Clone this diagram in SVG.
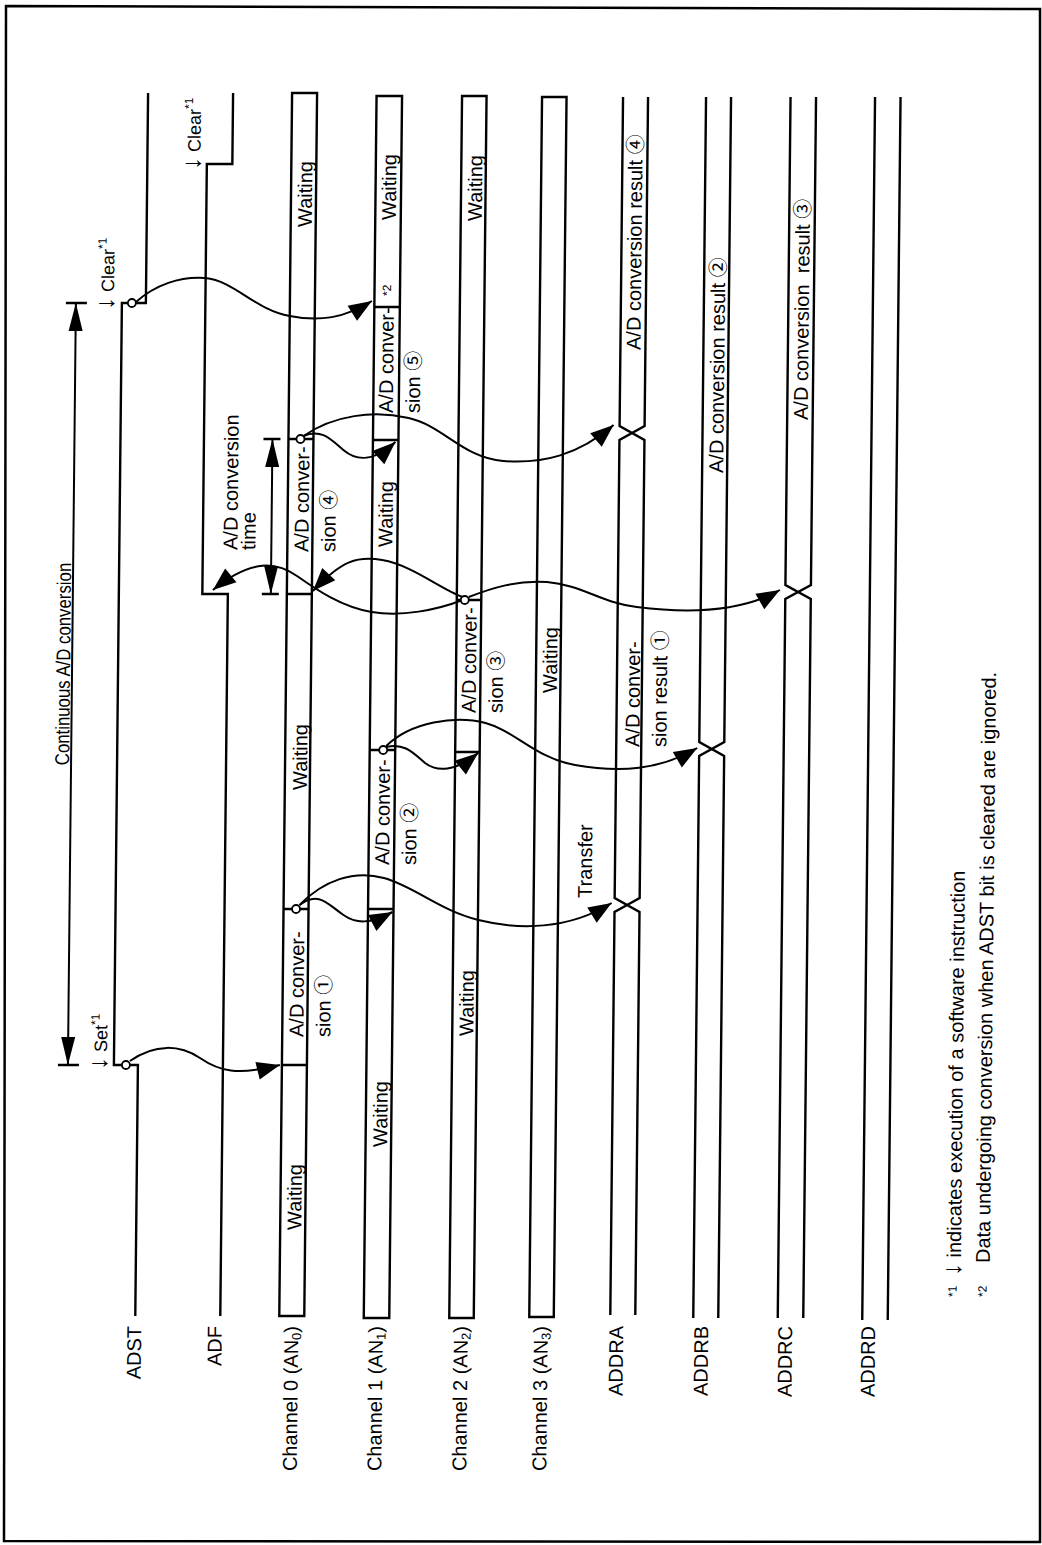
<svg xmlns="http://www.w3.org/2000/svg" width="1042" height="1545" viewBox="0 0 1042 1545">
<style>
.ln{fill:none;stroke:#000;stroke-width:2.4}
.bx{fill:none;stroke:#000;stroke-width:2.4}
.cv{fill:none;stroke:#000;stroke-width:2}
.t{font-family:"Liberation Sans","Noto Sans CJK JP",sans-serif;font-size:20px;fill:#000}
.m{font-size:18px}
.s{font-size:12px}
.ar{font-size:26px}
.dot{fill:#fff;stroke:#000;stroke-width:1.8}
</style>
<defs>
<marker id="ah" markerUnits="userSpaceOnUse" viewBox="-24 -11 26 22" markerWidth="26" markerHeight="22" refX="0" refY="0" orient="auto"><path d="M0,0 L-23,-9 L-23,9 Z"/></marker>
<marker id="dh" markerUnits="userSpaceOnUse" viewBox="-30 -8 32 16" markerWidth="32" markerHeight="16" refX="0" refY="0" orient="auto-start-reverse"><path d="M0,0 L-28,-7 L-28,7 Z"/></marker>
</defs>
<rect width="1042" height="1545" fill="#fff"/>
<polygon points="6,6 1040,9 1040,1542 4,1541" fill="none" stroke="#000" stroke-width="2.5"/>
<g transform="translate(8.06,0) skewX(-0.6)">
<g id="continuous">
<path class="ln" d="M61,303 H82 M61,1065 H82"/>
<path class="cv" d="M71,303 V1065" marker-start="url(#dh)" marker-end="url(#dh)"/>
<text class="t" text-anchor="middle" transform="translate(69,664) rotate(-90) scale(0.84,1)">Continuous A/D conversion</text>
</g>
<g id="adst">
<path class="ln" d="M141,1316 V1065 H117 V303 H141 V93"/>
<text class="t" text-anchor="end" transform="translate(147,1326) rotate(-90)">ADST</text>
<text class="t m" transform="translate(110,1070) rotate(-90)"><tspan class="ar">↓</tspan> Set<tspan class="s" dy="-8">*1</tspan></text>
<text class="t m" transform="translate(109,310) rotate(-90)"><tspan class="ar">↓</tspan> Clear<tspan class="s" dy="-8">*1</tspan></text>
</g>
<g id="adf">
<path class="ln" d="M226,1316 V594 H200.5 V164 H226 V93"/>
<text class="t" text-anchor="end" transform="translate(227.5,1326) rotate(-90)">ADF</text>
<text class="t m" transform="translate(194,170) rotate(-90)"><tspan class="ar">↓</tspan> Clear<tspan class="s" dy="-8">*1</tspan></text>
</g>
<g id="conv-time">
<path class="ln" d="M260,439 H277 M260,594 H277"/>
<path class="cv" d="M269,439 V594" marker-start="url(#dh)" marker-end="url(#dh)"/>
<text class="t" transform="translate(235,550) rotate(-90)">A/D conversion</text>
<text class="t" transform="translate(253,550) rotate(-90)">time</text>
</g>
<g id="ch0">
<rect class="bx" x="285" y="93" width="25" height="1223"/>
<path class="ln" d="M285,1065 H310 M285,909 H310 M285,594 H310 M285,439 H310"/>
<text class="t" transform="translate(306,1230) rotate(-90)">Waiting</text>
<text class="t" transform="translate(306,1037) rotate(-90)">A/D conver-</text>
<text class="t" transform="translate(333,1037) rotate(-90)">sion ①</text>
<text class="t" transform="translate(307,790) rotate(-90)">Waiting</text>
<text class="t" transform="translate(306,552) rotate(-90)">A/D conver-</text>
<text class="t" transform="translate(333,552) rotate(-90)">sion ④</text>
<text class="t" transform="translate(306,227) rotate(-90)">Waiting</text>
<text class="t" text-anchor="end" transform="translate(304,1326) rotate(-90)">Channel 0 (AN<tspan font-size="13" dy="3">0</tspan><tspan dy="-3">)</tspan></text>
</g>
<g id="ch1">
<rect class="bx" x="369.5" y="96" width="25.5" height="1222"/>
<path class="ln" d="M369.5,909 H395 M369.5,750 H395 M369.5,440 H395 M369.5,307 H395"/>
<text class="t" transform="translate(391,1147) rotate(-90)">Waiting</text>
<text class="t" transform="translate(390,865) rotate(-90)">A/D conver-</text>
<text class="t" transform="translate(417,865) rotate(-90)">sion ②</text>
<text class="t" transform="translate(390,547) rotate(-90)">Waiting</text>
<text class="t" transform="translate(389,413) rotate(-90)">A/D conver-</text>
<text class="t" transform="translate(416,413) rotate(-90)">sion ⑤</text>
<text class="t s" transform="translate(386,296) rotate(-90)">*2</text>
<text class="t" transform="translate(390,220) rotate(-90)">Waiting</text>
<text class="t" text-anchor="end" transform="translate(388.5,1326) rotate(-90)">Channel 1 (AN<tspan font-size="13" dy="3">1</tspan><tspan dy="-3">)</tspan></text>
</g>
<g id="ch2">
<rect class="bx" x="455" y="96" width="24.5" height="1222"/>
<path class="ln" d="M455,752 H479.5 M455,600 H479.5"/>
<text class="t" transform="translate(476,1036) rotate(-90)">Waiting</text>
<text class="t" transform="translate(475,713) rotate(-90)">A/D conver-</text>
<text class="t" transform="translate(502,713) rotate(-90)">sion ③</text>
<text class="t" transform="translate(476,221) rotate(-90)">Waiting</text>
<text class="t" text-anchor="end" transform="translate(473.5,1326) rotate(-90)">Channel 2 (AN<tspan font-size="13" dy="3">2</tspan><tspan dy="-3">)</tspan></text>
</g>
<g id="ch3">
<rect class="bx" x="535" y="97" width="24.5" height="1220"/>
<text class="t" transform="translate(556,693) rotate(-90)">Waiting</text>
<text class="t" text-anchor="end" transform="translate(553.5,1326) rotate(-90)">Channel 3 (AN<tspan font-size="13" dy="3">3</tspan><tspan dy="-3">)</tspan></text>
</g>
<g id="addra">
<path class="ln" d="M616,1315 V912 L641,898 V440 L616,426 V97 M641,1315 V912 L616,898 V440 L641,426 V97"/>
<text class="t" transform="translate(593,898) rotate(-90)">Transfer</text>
<text class="t" transform="translate(639,747) rotate(-90)">A/D conver-</text>
<text class="t" transform="translate(666,747) rotate(-90)">sion result ①</text>
<text class="t" transform="translate(636,350) rotate(-90)">A/D conversion result ④</text>
<text class="t" text-anchor="end" transform="translate(629,1326) rotate(-90)">ADDRA</text>
</g>
<g id="addrb">
<path class="ln" d="M699,1318 V756 L724,742 V97 M724,1318 V756 L699,742 V97"/>
<text class="t" transform="translate(720,473) rotate(-90)">A/D conversion result ②</text>
<text class="t" text-anchor="end" transform="translate(714,1326) rotate(-90)">ADDRB</text>
</g>
<g id="addrc">
<path class="ln" d="M783.5,1318 V599 L809,585 V97 M809,1318 V599 L783.5,585 V97"/>
<text class="t" xml:space="preserve" transform="translate(804,420) rotate(-90)">A/D conversion  result ③</text>
<text class="t" text-anchor="end" transform="translate(798,1326) rotate(-90)">ADDRC</text>
</g>
<g id="addrd">
<path class="ln" d="M868,1320 V97 M893.5,1320 V97"/>
<text class="t" text-anchor="end" transform="translate(881,1326) rotate(-90)">ADDRD</text>
</g>
<g id="connectors">
<path class="cv" d="M133,1061 C158,1043 183,1045 203,1058 C222,1071 240,1076 283,1065" marker-end="url(#ah)"/>
<path class="cv" d="M301,905 C325,880 355,870 385,878 C415,886 440,910 480,920 C520,930 570,930 613,903" marker-end="url(#ah)"/>
<path class="cv" d="M301,905 C320,890 330,905 345,915 C358,924 372,924 394,912" marker-end="url(#ah)"/>
<path class="cv" d="M386,746 C410,722 455,715 485,723 C515,731 535,758 575,765 C620,773 660,770 697,748" marker-end="url(#ah)"/>
<path class="cv" d="M386,747 C405,742 415,755 425,763 C437,772 455,772 478,753" marker-end="url(#ah)"/>
<path class="cv" d="M467,597 C490,588 515,580 545,582 C580,585 600,603 635,607 C690,614 740,612 778,590" marker-end="url(#ah)"/>
<path class="cv" d="M461,600 C435,610 400,617 370,612 C340,607 315,590 295,576 C275,562 250,558 211,590" marker-end="url(#ah)"/>
<path class="cv" d="M461,597 C440,590 410,565 380,560 C355,556 340,560 311,591" marker-end="url(#ah)"/>
<path class="cv" d="M300,436 C330,415 370,410 405,418 C440,426 460,458 500,461 C540,464 575,455 610,425" marker-end="url(#ah)"/>
<path class="cv" d="M300,436 C318,428 328,440 340,450 C352,460 368,464 392,442" marker-end="url(#ah)"/>
<path class="cv" d="M131,302 C150,285 175,276 200,278 C230,281 250,310 285,316 C315,322 340,318 367,301" marker-end="url(#ah)"/>
<circle class="dot" cx="129" cy="1065" r="4"/>
<circle class="dot" cx="127" cy="303" r="4"/>
<circle class="dot" cx="297.5" cy="909" r="4"/>
<circle class="dot" cx="383" cy="750" r="4"/>
<circle class="dot" cx="463" cy="600" r="4"/>
<circle class="dot" cx="297" cy="439" r="4"/>
</g>
<g id="notes">
<text class="t s" transform="translate(962,1297) rotate(-90)">*1</text>
<text class="t" transform="translate(966,1276) rotate(-90)"><tspan class="ar">↓</tspan> indicates execution of a software instruction</text>
<text class="t s" transform="translate(992,1297) rotate(-90)">*2</text>
<text class="t" transform="translate(995,1263) rotate(-90)">Data undergoing conversion when ADST bit is cleared are ignored.</text>
</g>
</g>
</svg>
